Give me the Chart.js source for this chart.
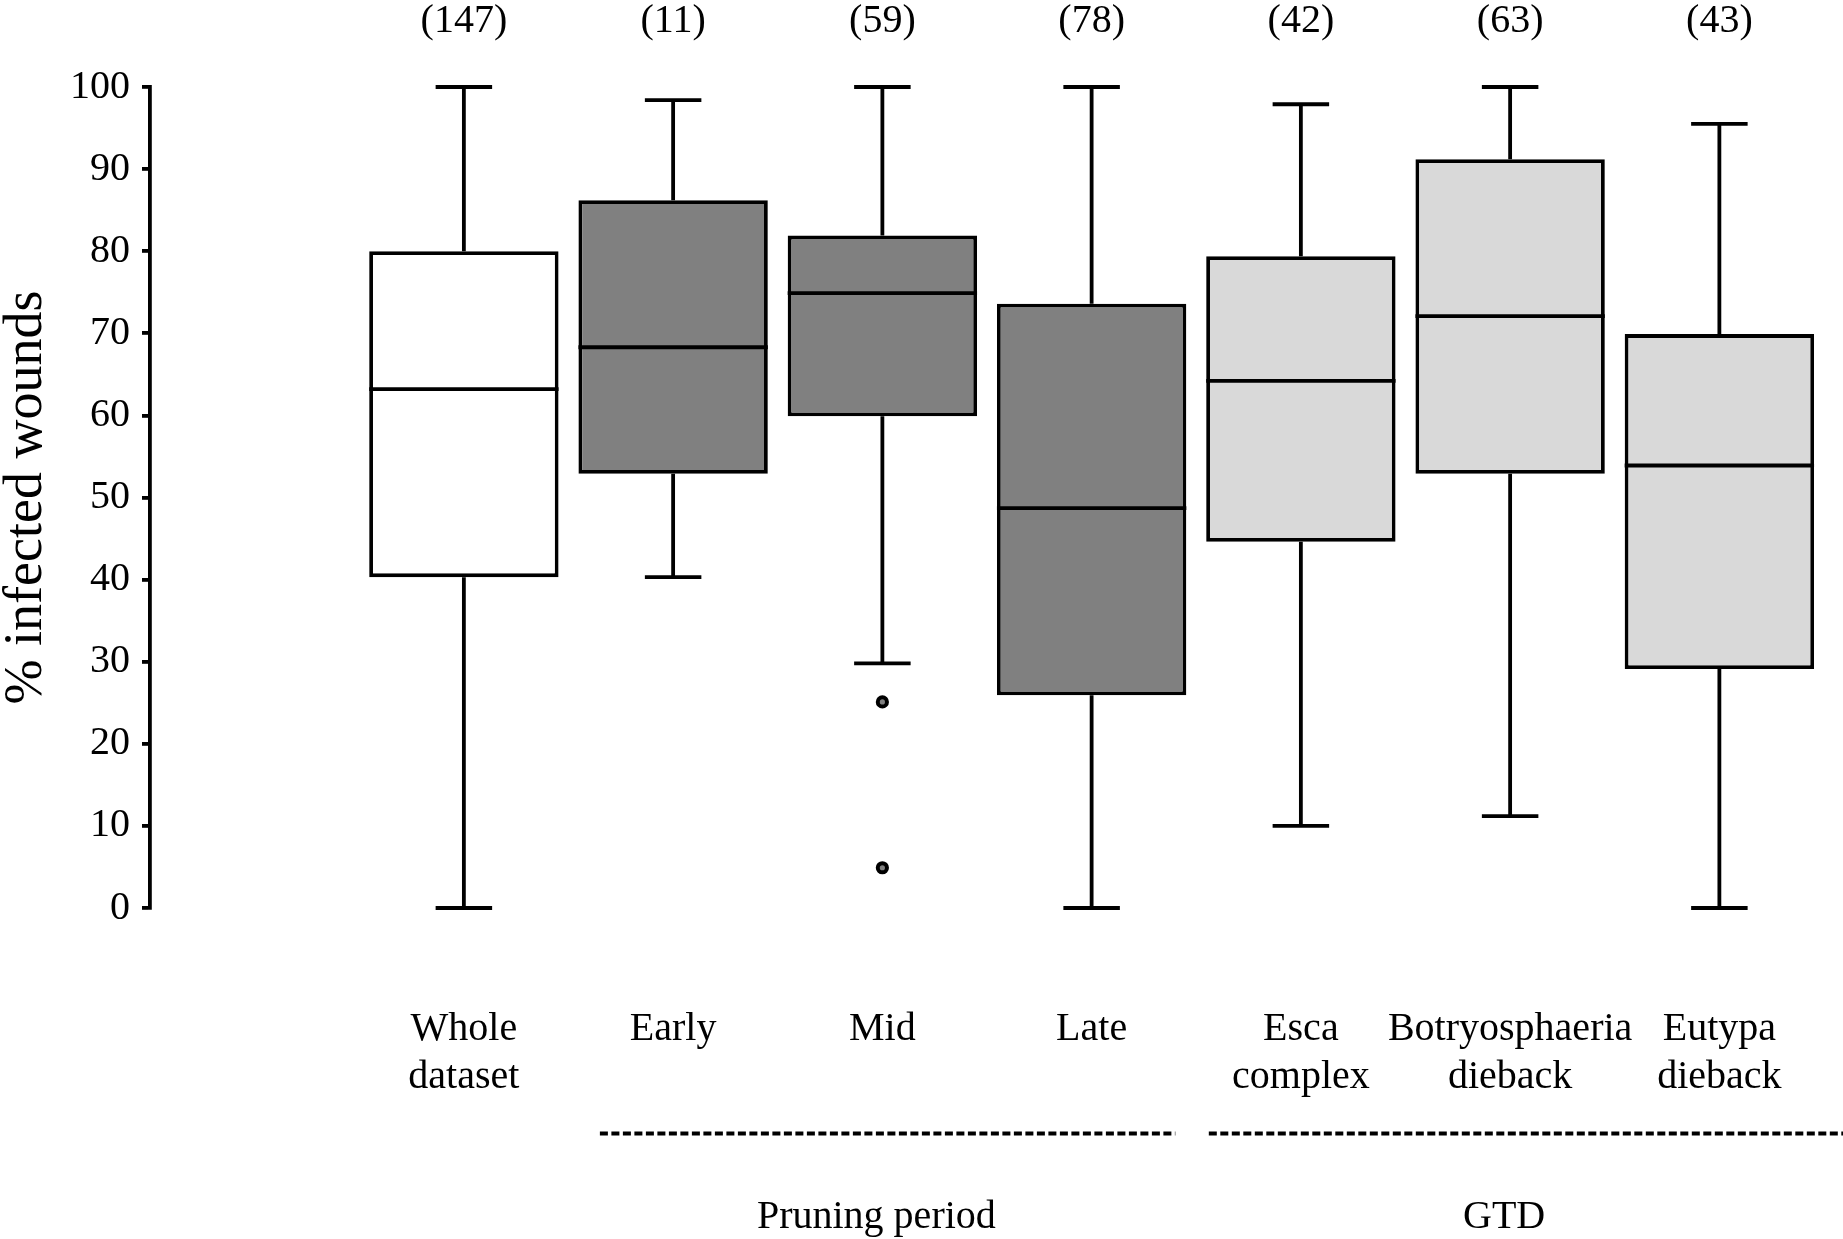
<!DOCTYPE html>
<html>
<head>
<meta charset="utf-8">
<title>% infected wounds</title>
<script src="https://cdn.jsdelivr.net/npm/chart.js@4.4.1/dist/chart.umd.min.js"></script>
<style>
  html, body { margin: 0; padding: 0; background: #fff; }
  #wrap { width: 1843px; height: 1239px; }
</style>
</head>
<body>
<div id="wrap"><canvas id="boxChart"></canvas></div>
<script>
// Box plot of % infected wounds per pruning period / GTD
const CATEGORIES = ['Whole dataset', 'Early', 'Mid', 'Late', 'Esca complex', 'Botryosphaeria dieback', 'Eutypa dieback'];
const COUNTS = ['(147)', '(11)', '(59)', '(78)', '(42)', '(63)', '(43)'];

const WHISKER_LOW  = [0,    40.3, 29.8, 0,    10.0, 11.2, 0];
const Q1           = [40.3, 52.9, 59.9, 25.9, 44.6, 52.9, 29.1];
const MEDIAN       = [63.2, 68.3, 74.9, 48.7, 64.2, 72.1, 53.9];
const Q3           = [80.0, 86.2, 81.9, 73.6, 79.4, 91.2, 69.9];
const WHISKER_HIGH = [100,  98.4, 100,  100,  97.9, 100,  95.5];

// outliers (category index, value)
const OUTLIER_CAT = [2, 2];
const OUTLIER_VAL = [25.1, 4.9];

const Y_MIN = 0;
const Y_MAX = 100;
const Y_STEP = 10;

// groups below the axis: label + first/last category
const GROUP_LABELS = ['Pruning period', 'GTD'];
const GROUP_SPAN = [[1, 3], [4, 6]];

const BOX_FILL = ['#ffffff', '#808080', '#808080', '#808080', '#d9d9d9', '#d9d9d9', '#d9d9d9'];
const FONT = 'Liberation Serif';
const LW = 3.8;

// one empty slot left of the boxes keeps the gap after the y axis
const X_LABELS = [''].concat(CATEGORIES);
const slot = i => i + 1;

// ── Whiskers, caps, medians, counts and group labels ─────────────
const boxParts = {
  id: 'boxParts',
  beforeDatasetsDraw(chart) {
    const { ctx, scales: { x, y } } = chart;
    ctx.save();
    ctx.strokeStyle = '#000';
    ctx.lineWidth = LW;
    CATEGORIES.forEach((_, i) => {
      const cx = x.getPixelForValue(slot(i));
      const l = x.getPixelForValue(slot(i) - 0.135);
      const r = x.getPixelForValue(slot(i) + 0.135);
      const hi = y.getPixelForValue(WHISKER_HIGH[i]);
      const lo = y.getPixelForValue(WHISKER_LOW[i]);
      ctx.beginPath();
      ctx.moveTo(cx, y.getPixelForValue(Q3[i])); ctx.lineTo(cx, hi);
      ctx.moveTo(cx, y.getPixelForValue(Q1[i])); ctx.lineTo(cx, lo);
      ctx.moveTo(l, hi); ctx.lineTo(r, hi);
      ctx.moveTo(l, lo); ctx.lineTo(r, lo);
      ctx.stroke();
    });
    ctx.restore();
  },
  afterDatasetsDraw(chart) {
    const { ctx, scales: { y } } = chart;
    const bars = chart.getDatasetMeta(0).data;
    ctx.save();
    ctx.strokeStyle = '#000';
    ctx.lineWidth = LW;
    bars.forEach((bar, i) => {
      const my = y.getPixelForValue(MEDIAN[i]);
      ctx.beginPath();
      ctx.moveTo(bar.x - bar.width / 2, my);
      ctx.lineTo(bar.x + bar.width / 2, my);
      ctx.stroke();
    });
    ctx.restore();
  },
  afterDraw(chart) {
    const { ctx, chartArea, scales: { x } } = chart;
    ctx.save();
    ctx.fillStyle = '#000';
    ctx.font = `40px "${FONT}"`;
    ctx.textAlign = 'center';
    ctx.textBaseline = 'middle';
    COUNTS.forEach((c, i) => ctx.fillText(c, x.getPixelForValue(slot(i)), chartArea.top - 66));

    // dashed group rules
    const ext = [[-0.35, 0.40], [-0.44, 0.60]];
    const ruleY = chartArea.bottom + 225.5;
    ctx.strokeStyle = '#000';
    ctx.lineWidth = LW;
    ctx.setLineDash([8, 3.5]);
    GROUP_SPAN.forEach(([a, b], g) => {
      ctx.beginPath();
      ctx.moveTo(x.getPixelForValue(slot(a) + ext[g][0]), ruleY);
      ctx.lineTo(x.getPixelForValue(slot(b) + ext[g][1]), ruleY);
      ctx.stroke();
    });
    ctx.setLineDash([]);
    GROUP_LABELS.forEach((t, g) => {
      const mid = (GROUP_SPAN[g][0] + GROUP_SPAN[g][1]) / 2;
      ctx.fillText(t, x.getPixelForValue(slot(mid)) - 6, chartArea.bottom + 309);
    });
    ctx.restore();
  }
};

// ── Chart ────────────────────────────────────────────────────────
const ctx = document.getElementById('boxChart').getContext('2d');
new Chart(ctx, {
  type: 'bar',
  data: {
    labels: X_LABELS,
    datasets: [{
      type: 'bar',
      data: CATEGORIES.map((c, i) => ({ x: c, y: [Q1[i], Q3[i]] })),
      backgroundColor: BOX_FILL,
      borderColor: '#000',
      borderWidth: LW,
      borderSkipped: false,
      barPercentage: 0.905,
      categoryPercentage: 1,
      clip: false,
    }, {
      type: 'scatter',
      data: OUTLIER_VAL.map((v, k) => ({ x: CATEGORIES[OUTLIER_CAT[k]], y: v })),
      pointRadius: 4.6,
      pointBackgroundColor: '#808080',
      pointBorderColor: '#000',
      pointBorderWidth: 4,
      showLine: false,
      clip: false,
    }]
  },
  options: {
    responsive: true,
    maintainAspectRatio: false,
    animation: false,
    layout: { padding: { top: 87, left: 0, right: 19, bottom: 41 } },
    plugins: { legend: { display: false }, tooltip: { enabled: false } },
    scales: {
      x: {
        type: 'category',
        offset: true,
        grid: { display: false, drawTicks: false },
        border: { display: false },
        // last label may overhang the plot edge, like in the original
        afterFit: scale => { scale.paddingLeft = 0; scale.paddingRight = 0; },
        ticks: {
          autoSkip: false,
          maxRotation: 0,
          minRotation: 0,
          padding: 97,
          color: '#000',
          font: { family: FONT, size: 40, lineHeight: 1.2 },
          callback: function (v) {
            const s = this.getLabelForValue(v);
            return s ? s.split(' ') : '';
          }
        }
      },
      y: {
        min: Y_MIN,
        max: Y_MAX,
        grid: { display: true, drawOnChartArea: false, drawTicks: true, tickLength: 8, color: '#000', lineWidth: LW },
        border: { display: true, color: '#000', width: LW },
        ticks: {
          stepSize: Y_STEP,
          padding: 12,
          color: '#000',
          font: { family: FONT, size: 40, lineHeight: 1.2 }
        },
        title: {
          display: true,
          text: '% infected wounds',
          color: '#000',
          font: { family: FONT, size: 54, lineHeight: 1 },
          padding: { top: 0, bottom: 4 }
        }
      }
    }
  },
  plugins: [boxParts]
});
</script>
</body>
</html>
